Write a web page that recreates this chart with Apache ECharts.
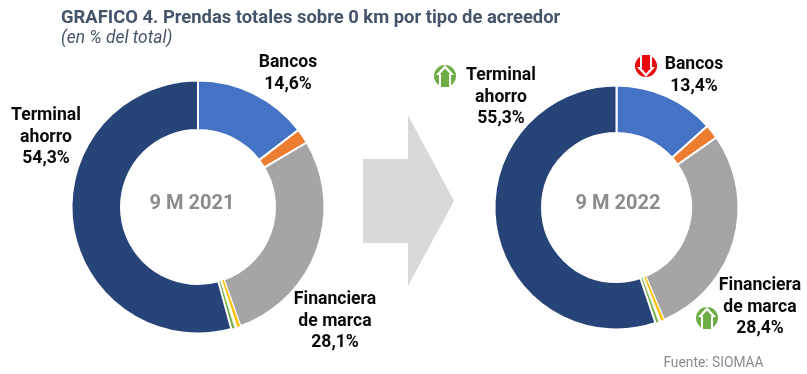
<!DOCTYPE html>
<html><head><meta charset="utf-8">
<style>html,body{margin:0;padding:0;background:#fff}#c{width:807px;height:374px}</style>
<script src="https://cdn.jsdelivr.net/npm/echarts@6/dist/echarts.min.js"></script>
</head><body><div id="c"></div>
<script>
const categories = ['Bancos','Otros 1','Financiera de marca','Otros 2','Otros 3','Otros 4','Terminal ahorro'];
const values2021 = [14.6,1.9,28.1,0.45,0.3,0.45,54.3];
const values2022 = [13.4,1.9,28.4,0.45,0.3,0.45,55.3];
const colors = ['#4472c4','#ed7d31','#a5a5a5','#ffc000','#fffaf0','#70ad47','#264478'];
const centerLabels = ['9 M 2021','9 M 2022'];
const titleText = 'GRAFICO 4. Prendas totales sobre 0 km por tipo de acreedor';
const subtitleText = '(en % del total)';
const sourceText = 'Fuente: SIOMAA';
const fmt = v => v.toFixed(1).replace('.', ',') + '%';
const lab = (v,l1,l2) => l2 ? `${l1}\n${l2}\n${fmt(v)}` : `${l1}\n${fmt(v)}`;
const pie = (vals,center,r) => ({
  type:'pie', center, radius:r, startAngle:90, clockwise:true, silent:true, animation:false,
  label:{show:false}, labelLine:{show:false},
  itemStyle:{borderColor:'#fff',borderWidth:2},
  data:categories.map((n,i)=>({name:n,value:vals[i],itemStyle:{color:colors[i],borderWidth:(i>=3&&i<=5)?0.6:2}}))
});
const text = (x,y,t,o={}) => ({type:'text',x,y,silent:true,z:10,style:Object.assign({
  text:t,fontFamily:'Roboto',fontSize:17.6,fontWeight:'bold',fill:'#0a0a0a',align:'center',verticalAlign:'top',lineHeight:21.5},o)});
const arrow = (cx,cy,col,down) => {
  const s = down ? -1 : 1;
  const P = a => a.map(([x,y])=>[cx+x,cy+s*y]);
  return [
    {type:'circle',z:10,silent:true,shape:{cx,cy,r:11},style:{fill:col}},
    {type:'polygon',z:11,silent:true,shape:{points:P([[0,-11],[9,-1],[6,-1],[6,11],[-6,11],[-6,-1],[-9,-1]])},style:{fill:'#fff'}},
    {type:'polygon',z:12,silent:true,shape:{points:P([[0,-7.5],[5,-2],[4,-2],[4,11],[-4,11],[-4,-2],[-5,-2]])},style:{fill:col}}
  ];
};
const chart = echarts.init(document.getElementById('c'),null,{renderer:'canvas'});
chart.setOption({
  animation:false, backgroundColor:'#fff',
  series:[pie(values2021,[198,207],[77,126.5]),pie(values2022,[616.5,207.5],[74.5,122])],
  graphic:[
    {type:'polygon',silent:true,shape:{points:[[363,159],[408,159],[408,115],[454,201],[408,286],[408,243],[363,243]]},style:{fill:'#d9d9d9'}},
    text(61,8,titleText,{align:'left',fontSize:18.4,fill:'#44546a'}),
    text(61,28,subtitleText,{align:'left',fontSize:17.4,fontWeight:'normal',fontStyle:'italic',fill:'#44546a'}),
    text(192,192,centerLabels[0],{fontSize:20,fill:'#8c8c8c',lineHeight:24}),
    text(618,192,centerLabels[1],{fontSize:20,fill:'#8c8c8c',lineHeight:24}),
    text(288,52,lab(values2021[0],'Bancos')),
    text(46,105,lab(values2021[6],'Terminal','ahorro')),
    text(335,289,lab(values2021[2],'Financiera','de marca')),
    text(694,54,lab(values2022[0],'Bancos')),
    text(501,65,lab(values2022[6],'Terminal','ahorro')),
    text(760,275,lab(values2022[2],'Financiera','de marca')),
    ...arrow(445,76,'#70ad47',false),
    ...arrow(646,66,'#e8090f',true),
    ...arrow(707,318,'#70ad47',false),
    text(713.5,356,sourceText,{fontSize:13.8,fontWeight:'normal',fill:'#8c8c8c',lineHeight:16})
  ]
});
</script></body></html>
